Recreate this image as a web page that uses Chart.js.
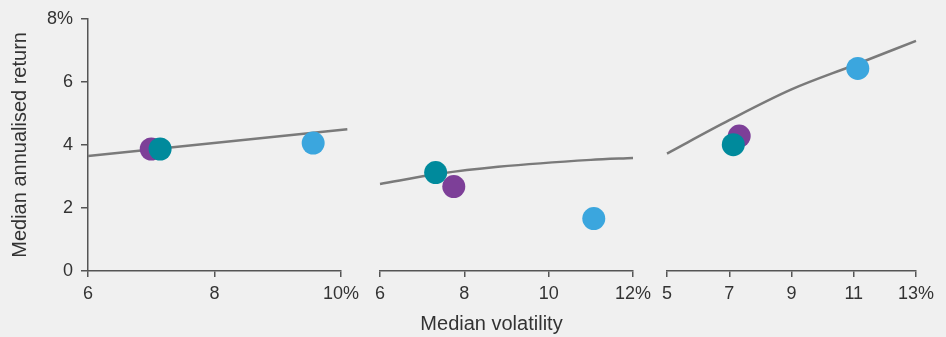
<!DOCTYPE html>
<html>
<head>
<meta charset="utf-8">
<script src="https://cdn.jsdelivr.net/npm/chart.js@4"></script>
<style>
  body { margin: 0; background: #f0f0f0; }
  .panel { position: absolute; top: 0; height: 337px; }
  #xtitle { position: absolute; left: 0; width: 983px; top: 312px; text-align: center;
    font: 20px "Liberation Sans", Arial, sans-serif; color: #333; }
</style>
</head>
<body>
<div class="panel" style="left:0;width:370px"><canvas id="chart1"></canvas></div>
<div class="panel" style="left:340px;width:320px"><canvas id="chart2"></canvas></div>
<div class="panel" style="left:640px;width:306px"><canvas id="chart3"></canvas></div>
<div id="xtitle">Median volatility</div>
<script>
PURPLE = '#7d3f98';
TEAL = '#008a9c';
BLUE = '#3ba6de';
LINE = '#7a7a7a';
AXIS = '#555555';
FONT = '"Liberation Sans", Arial, sans-serif';

// panel 1
line1X = [6, 10.1];
line1Y = [3.65, 4.5];
purple1 = [7.0, 3.87];
teal1 = [7.14, 3.87];
blue1 = [9.56, 4.06];

// panel 2
line2X = [6, 7.4, 8.8, 11, 12];
line2Y = [2.74, 3.06, 3.28, 3.50, 3.56];
purple2 = [7.75, 2.66];
teal2 = [7.32, 3.10];
blue2 = [11.07, 1.65];

// panel 3
line3X = [5, 7, 9, 11, 13];
line3Y = [3.7, 4.75, 5.72, 6.48, 7.25];
purple3 = [7.32, 4.25];
teal3 = [7.13, 3.98];
blue3 = [11.13, 6.38];

xRanges = [[6, 10], [6, 12], [5, 13]];

function pts(xs, ys) {
	return xs.map(function (x, i) { return {x: x, y: ys[i]}; });
}

function dot(p, color, order) {
	return {
		data: [{x: p[0], y: p[1]}],
		backgroundColor: color,
		borderWidth: 0,
		pointRadius: 11.5,
		pointHoverRadius: 11.5,
		order: order
	};
}

function makeChart(id, lx, ly, purple, teal, blue, range, padLeft, padRight, showY) {
	var ctx = document.getElementById(id).getContext('2d');
	return new Chart(ctx, {
		type: 'scatter',
		data: {
			datasets: [
				{
					data: pts(lx, ly),
					showLine: true,
					borderColor: LINE,
					borderWidth: 2.5,
					pointRadius: 0,
					cubicInterpolationMode: 'monotone',
					clip: false,
					order: 4
				},
				dot(purple, PURPLE, 3),
				dot(teal, TEAL, 2),
				dot(blue, BLUE, 1)
			]
		},
		options: {
			responsive: true,
			maintainAspectRatio: false,
			animation: false,
			events: [],
			layout: {
				padding: {top: 17, left: padLeft, right: padRight, bottom: 0}
			},
			plugins: {
				legend: {display: false},
				tooltip: {enabled: false}
			},
			scales: {
				x: {
					type: 'linear',
					min: range[0],
					max: range[1],
					grid: {drawOnChartArea: false, drawTicks: true, tickLength: 6, color: AXIS, lineWidth: 1.5},
					border: {color: AXIS, width: 1.5},
					ticks: {
						stepSize: 2,
						padding: 6,
						color: '#333',
						font: {family: FONT, size: 18},
						callback: function (v) { return v === range[1] ? v + '%' : v; }
					},
					afterFit: function (s) { s.height = 66; }
				},
				y: {
					display: showY,
					min: 0,
					max: 8,
					grid: {drawOnChartArea: false, drawTicks: true, tickLength: 7, color: AXIS, lineWidth: 1.5},
					border: {color: AXIS, width: 1.5},
					ticks: {
						stepSize: 2,
						padding: 8,
						color: '#333',
						font: {family: FONT, size: 18},
						callback: function (v) { return v === 8 ? v + '%' : v; }
					},
					title: {
						display: true,
						text: 'Median annualised return',
						color: '#333',
						font: {family: FONT, size: 20},
						padding: {top: 8, bottom: 0}
					},
					afterFit: function (s) { if (showY) s.width = 88; }
				}
			}
		}
	});
}

makeChart('chart1', line1X, line1Y, purple1, teal1, blue1, xRanges[0], 0, 29, true);
makeChart('chart2', line2X, line2Y, purple2, teal2, blue2, xRanges[1], 40, 27, false);
makeChart('chart3', line3X, line3Y, purple3, teal3, blue3, xRanges[2], 27, 30, false);
</script>
</body>
</html>
